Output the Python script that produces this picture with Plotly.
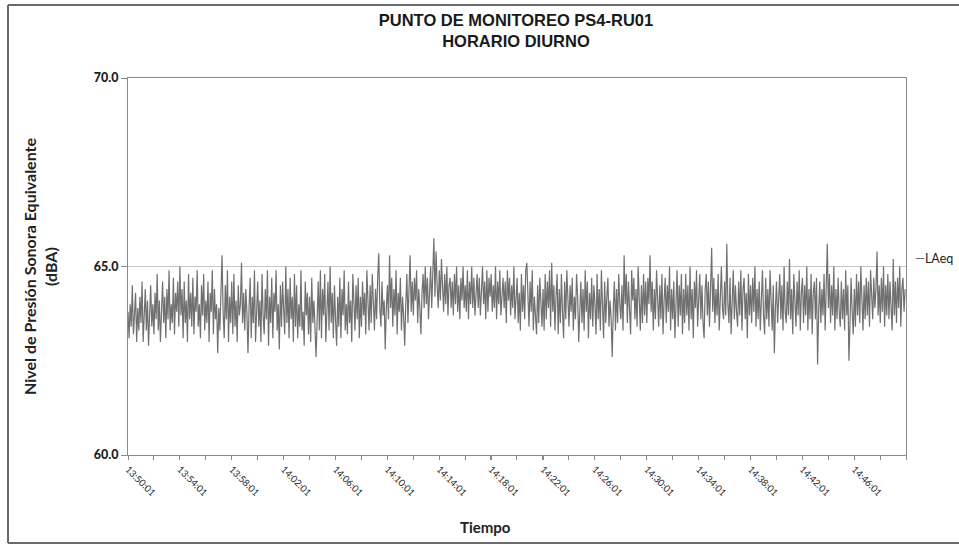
import plotly.graph_objects as go
import pandas as pd

# ---- data (LAeq, dBA), 5-second steps from 13:50:01 ----
start_time = "2023-01-01 13:50:01"
end_time = "2023-01-01 14:50:00"
step_seconds = 5

laeq = [
    63.8, 63.1, 64.0, 63.4, 64.5, 63.2, 63.7, 64.3, 63.0, 63.9, 63.3, 64.2,
    63.5, 64.6, 63.0, 63.8, 64.4, 63.3, 64.1, 62.9, 63.7, 64.5, 63.4, 64.0,
    63.2, 64.3, 63.6, 64.8, 63.3, 64.1, 63.0, 63.9, 64.6, 63.5, 64.2, 63.1,
    64.4, 63.6, 64.9, 63.3, 64.0, 63.5, 64.7, 63.2, 64.3, 63.8, 64.6, 63.4,
    65.0, 63.7, 64.4, 63.1, 64.6, 63.5, 64.1, 63.0, 64.8, 63.6, 64.3, 63.4,
    64.7, 63.2, 64.2, 63.8, 64.9, 63.4, 64.0, 63.1, 64.5, 63.7, 64.8, 63.3,
    64.1, 63.5, 64.6, 63.0, 64.3, 63.8, 64.9, 63.2, 64.4, 63.6, 64.0, 62.7,
    63.9, 63.3, 64.7, 65.3, 63.8, 63.1, 64.5, 63.6, 64.9, 63.0, 64.2, 63.5,
    64.6, 63.2, 64.8, 63.4, 64.1, 63.0, 64.5, 63.7, 64.0, 65.1, 63.5, 64.3,
    63.3, 64.4, 63.8, 62.7, 63.9, 64.7, 63.1, 64.2, 63.5, 64.9, 63.0, 64.0,
    64.6, 63.4, 64.1, 63.0, 64.8, 63.7, 63.2, 64.4, 63.6, 64.9, 62.9, 64.2,
    63.5, 64.7, 63.1, 64.3, 63.8, 64.9, 63.3, 64.0, 62.8, 64.5, 63.4, 64.6,
    63.9, 63.2, 65.0, 63.5, 64.4, 63.1, 64.7, 63.6, 64.2, 63.0, 64.8, 63.4,
    64.5, 63.1, 64.0, 63.4, 64.9, 63.3, 63.8, 62.9, 64.6, 63.7, 64.3, 63.2,
    64.2, 63.0, 64.7, 63.5, 64.1, 63.2, 62.6, 63.6, 64.6, 63.3, 64.9, 63.1,
    64.4, 63.7, 64.8, 63.0, 63.9, 64.6, 63.3, 65.0, 63.5, 64.3, 63.1, 64.5,
    63.6, 62.9, 64.2, 63.4, 64.7, 63.1, 64.4, 63.7, 64.9, 63.3, 64.0, 63.2,
    64.6, 63.5, 64.1, 63.0, 64.8, 63.8, 63.3, 64.5, 63.6, 64.7, 63.1, 64.2,
    63.4, 64.6, 63.7, 64.3, 63.2, 64.9, 63.8, 63.3, 64.5, 63.5, 64.8, 64.0,
    63.3, 64.4, 63.6, 64.7, 65.35, 63.9, 63.4, 64.6, 63.7, 64.1, 62.8, 63.9,
    64.5, 63.6, 65.3, 63.9, 64.7, 63.4, 64.4, 63.7, 64.9, 63.2, 64.3, 63.8,
    64.7, 63.3, 64.2, 63.7, 62.9, 64.0, 64.8, 63.5, 64.5, 65.3, 63.8, 64.6,
    63.7, 64.7, 64.1, 64.9, 63.5, 64.4, 63.9, 63.2, 64.3, 64.8, 63.9, 65.0,
    64.0, 64.7, 63.6, 64.4, 65.0, 63.9, 64.6, 65.75, 64.2, 65.4, 64.5, 63.9,
    64.9, 64.1, 65.2, 64.3, 63.8, 64.8, 64.0, 65.0, 63.7, 64.5, 64.7, 63.9,
    64.6, 63.7, 64.8, 64.0, 65.0, 63.8, 64.5, 63.6, 64.7, 64.1, 65.0, 63.9,
    64.5, 63.8, 64.9, 63.6, 64.6, 64.0, 65.0, 63.9, 64.7, 63.7, 64.3, 64.8,
    63.9, 64.7, 63.7, 64.5, 65.0, 64.0, 64.6, 63.6, 64.9, 63.8, 64.7, 64.2,
    64.8, 63.8, 64.5, 63.9, 65.0, 63.6, 64.6, 64.0, 64.9, 63.7, 64.4, 64.7,
    63.9, 64.6, 63.5, 64.9, 64.1, 64.7, 63.7, 64.5, 63.9, 65.0, 63.6, 64.3,
    64.7, 63.5, 64.3, 63.3, 64.8, 63.8, 64.5, 63.6, 64.9, 65.1, 64.0, 63.4,
    64.6, 63.8, 64.9, 63.3, 64.2, 63.7, 63.2, 64.5, 63.5, 64.7, 63.9, 63.4,
    64.4, 63.3, 64.8, 63.6, 64.6, 63.9, 64.9, 63.4, 65.1, 63.8, 64.5, 63.3,
    64.2, 64.8, 63.2, 64.4, 63.5, 64.8, 63.8, 63.1, 64.6, 63.6, 64.9, 63.9,
    63.4, 64.5, 63.8, 64.7, 63.3, 64.2, 63.6, 64.8, 64.2, 63.0, 64.0, 64.6,
    63.5, 64.4, 63.3, 64.9, 63.8, 64.6, 63.1, 64.3, 63.6, 64.7, 63.4, 64.5,
    64.0, 63.2, 64.8, 63.6, 64.4, 63.3, 64.9, 63.8, 63.1, 64.6, 63.5, 64.2,
    64.7, 63.4, 64.1, 63.6, 62.6, 63.9, 64.6, 63.3, 64.4, 63.5, 64.8, 64.0,
    63.6, 64.5, 63.3, 65.3, 64.0, 64.8, 63.5, 64.6, 63.8, 63.2, 64.9, 64.1,
    64.7, 63.6, 64.4, 63.4, 65.0, 63.9, 63.3, 64.5, 63.5, 64.8, 63.7, 64.6,
    63.5, 64.7, 64.0, 65.3, 63.8, 64.6, 63.3, 64.4, 63.6, 64.9, 63.9, 63.4,
    64.5, 63.6, 64.8, 63.2, 64.1, 64.7, 63.5, 64.5, 63.8, 65.0, 63.3, 64.4,
    63.6, 64.6, 63.1, 64.3, 64.9, 63.4, 64.5, 63.7, 64.8, 63.2, 64.4, 63.5,
    64.8, 63.7, 64.5, 63.3, 65.0, 63.6, 64.4, 63.1, 64.6, 63.9, 64.9, 63.4,
    64.3, 64.8, 63.6, 64.5, 63.5, 63.1, 64.4, 64.8, 63.7, 64.6, 63.4, 64.9,
    65.5, 63.8, 64.7, 63.5, 64.4, 63.7, 64.8, 63.3, 64.5, 65.0, 63.9, 63.6,
    64.6, 63.7, 65.6, 64.0, 63.5, 64.7, 63.2, 64.3, 64.9, 63.6, 64.5, 63.8,
    63.4, 64.6, 63.7, 64.9, 63.3, 64.4, 64.7, 63.6, 64.3, 63.1, 64.8, 63.7,
    64.5, 63.5, 64.7, 63.8, 65.0, 63.4, 64.4, 63.6, 64.6, 63.3, 64.3, 64.9,
    63.7, 63.2, 64.7, 63.6, 64.4, 63.4, 64.9, 63.8, 63.3, 64.5, 62.7, 63.9,
    64.6, 63.5, 64.3, 64.8, 63.6, 64.5, 63.3, 65.0, 63.8, 63.5, 64.6, 63.7,
    65.2, 63.6, 64.4, 63.2, 64.8, 63.8, 63.4, 64.6, 63.7, 64.9, 63.3, 64.3,
    64.7, 63.5, 64.5, 63.7, 65.0, 63.3, 64.4, 63.6, 64.8, 63.2, 64.3, 64.6,
    63.6, 64.7, 62.4, 63.8, 64.6, 63.5, 64.4, 63.7, 64.8, 63.3, 64.5, 65.6,
    63.9, 64.8, 63.5, 64.5, 63.7, 65.0, 63.3, 64.4, 63.6, 64.7, 63.8, 63.4,
    64.6, 63.6, 64.4, 63.3, 64.9, 63.7, 64.5, 62.5, 63.5, 64.7, 63.8, 63.2,
    64.4, 63.4, 64.8, 63.7, 64.6, 63.5, 65.0, 63.8, 63.3, 64.5, 63.6, 64.7,
    63.7, 64.6, 63.4, 64.9, 64.0, 63.6, 64.7, 63.9, 64.4, 65.4, 63.7, 64.5,
    63.5, 64.7, 63.8, 65.0, 63.4, 64.5, 63.7, 64.8, 63.6, 64.6, 63.9, 63.3,
    65.2, 63.7, 64.6, 63.5, 64.7, 63.9, 65.0, 63.4, 64.4, 64.7, 63.8, 64.4,
]

times = pd.date_range(start=start_time, periods=len(laeq), freq=f"{step_seconds}s")

y_ticks = [60.0, 65.0, 70.0]
y_tick_labels = ["60.0", "65.0", "70.0"]

title_text = "<b>PUNTO DE MONITOREO PS4-RU01</b><br><b>HORARIO DIURNO</b>"
y_title = "<b>Nivel de Presión Sonora Equivalente</b><br><b>(dBA)</b>"
x_title = "Tiempo"
series_name = "LAeq"

# ---- layout geometry (pixels) ----
W, H = 959, 545
L, R, T, B = 128, 906, 78, 455


def px(xp):
    return (xp - L) / (R - L)


def py(yp):
    return (B - yp) / (B - T)


fig = go.Figure()
fig.add_trace(go.Scatter(
    x=times, y=laeq, mode="lines", name=series_name,
    line=dict(color="#707070", width=1.2), showlegend=False,
))

axis_col = "#8a8a8a"
fig.update_layout(
    width=W, height=H,
    margin=dict(l=L, r=W - R, t=T, b=H - B, pad=0),
    paper_bgcolor="white", plot_bgcolor="white",
    title=dict(text=title_text, x=516 / W, xanchor="center",
               y=1 - 26 / H, yanchor="top", yref="container",
               font=dict(family="Liberation Sans, Arial, sans-serif",
                         size=16.5, color="#1a1a1a")),
    font=dict(family="Lato, Carlito, Calibri, sans-serif", color="#222"),
)

fig.update_xaxes(
    type="date",
    range=[start_time, end_time],
    tick0=start_time, dtick=240000,
    tickformat="%H:%M:%S", tickangle=45,
    tickfont=dict(size=9.5, color="#222"),
    ticks="outside", ticklen=4, tickcolor=axis_col,
    minor=dict(dtick=120000, ticks="outside", ticklen=4, tickcolor=axis_col, showgrid=False),
    showline=True, linecolor=axis_col, linewidth=1, mirror=True,
    showgrid=False, zeroline=False,
)

fig.update_yaxes(
    range=[60, 70], tickvals=y_ticks, ticktext=y_tick_labels,
    tickfont=dict(size=12.5, color="#222", family="Lato Black, Lato, sans-serif"),
    ticks="outside", ticklen=6, tickcolor=axis_col,
    showline=True, linecolor=axis_col, linewidth=1, mirror=True,
    showgrid=True, gridcolor="#c4c4c4", gridwidth=1, zeroline=False,
    title=dict(text=y_title, standoff=32,
               font=dict(size=16, color="#222", family="Lato, sans-serif")),
)

fig.add_annotation(
    text=f"<b>{x_title}</b>", xref="paper", yref="paper",
    x=px(485), y=py(527), xanchor="center", yanchor="middle",
    showarrow=False, font=dict(size=15, color="#222", family="Lato, sans-serif"),
)

# series label at right, next to the plot area
fig.add_annotation(
    text=f'<span style="color:#707070">—</span>{series_name}',
    xref="paper", yref="paper", x=px(913), y=py(258),
    xanchor="left", yanchor="middle", showarrow=False,
    font=dict(size=12.5, color="#222", family="Lato, sans-serif"),
)

# outer frame of the scanned chart (top, left, bottom)
frame = dict(color="#6a6a6a", width=2)
fig.add_shape(type="line", xref="paper", yref="paper",
              x0=px(8), x1=px(960), y0=py(5), y1=py(5), line=frame)
fig.add_shape(type="line", xref="paper", yref="paper",
              x0=px(8), x1=px(8), y0=py(5), y1=py(543), line=frame)
fig.add_shape(type="line", xref="paper", yref="paper",
              x0=px(8), x1=px(960), y0=py(543), y1=py(543), line=frame)

fig.write_html("out.html")
